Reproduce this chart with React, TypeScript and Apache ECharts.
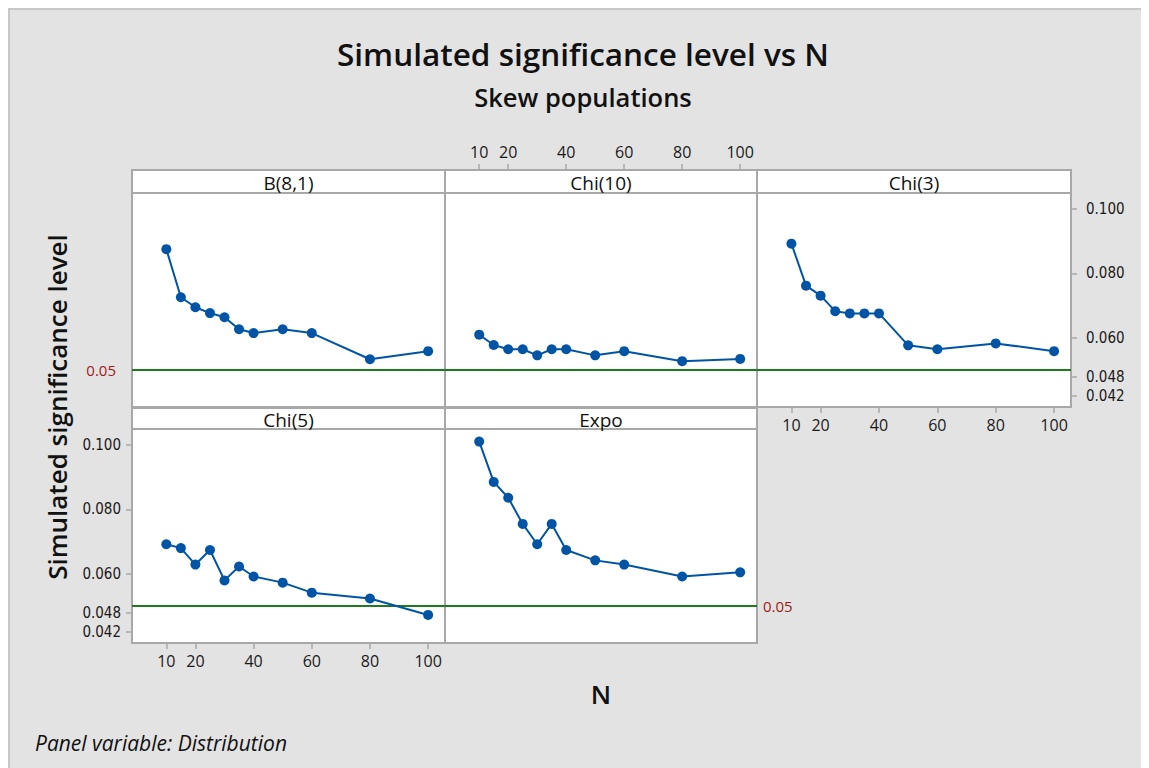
import React, { useEffect, useRef } from "react";
import * as echarts from "echarts";

const nValues = [10, 15, 20, 25, 30, 35, 40, 50, 60, 80, 100];
const panelNames = ["B(8,1)", "Chi(10)", "Chi(3)", "Chi(5)", "Expo"];
const b81 = [0.0875, 0.0726, 0.0695, 0.0677, 0.0664, 0.0627, 0.0615, 0.0627, 0.0615, 0.0534, 0.0559];
const chi10 = [0.061, 0.0578, 0.0565, 0.0565, 0.0546, 0.0565, 0.0565, 0.0546, 0.0559, 0.0528, 0.0535];
const chi3 = [0.0892, 0.0762, 0.0731, 0.0683, 0.0676, 0.0676, 0.0676, 0.0577, 0.0565, 0.0583, 0.0559];
const chi5 = [0.0692, 0.068, 0.0629, 0.0674, 0.058, 0.0623, 0.0592, 0.0573, 0.0542, 0.0524, 0.0473];
const expo = [0.101, 0.0885, 0.0836, 0.0755, 0.0692, 0.0755, 0.0674, 0.0642, 0.0629, 0.0592, 0.0605];
const yTicks = [0.042, 0.048, 0.06, 0.08, 0.1];
const xTicks = [10, 20, 40, 60, 80, 100];
const refLevel = 0.05;

const FONT = "'Open Sans', 'Noto Sans', sans-serif";
const NARROW = "'Liberation Sans Narrow', 'DejaVu Sans Condensed', Roboto, sans-serif";
const BLUE = "#0054a6";
const GREEN = "#1e7b1e";
const RED = "#9c1c1c";
const BORDER = "#a8a8a8";

export default function App() {
  const ref = useRef<HTMLDivElement>(null);
  useEffect(() => {
    if (!ref.current) return;
    const chart = echarts.init(ref.current, undefined, { renderer: "svg" });
    const seriesData = [b81, chi10, chi3, chi5, expo];
    const colLeft = [124, 437, 749];
    const colWidth = [313, 312, 314];
    const rowTop = [185, 421];
    const rowHeight = 214;
    const headerTop = [162, 400];
    const headerH = [23, 21];
    const pos = [
      [0, 0],
      [0, 1],
      [0, 2],
      [1, 0],
      [1, 1],
    ];
    const grids = pos.map(([r, c]) => ({
      left: colLeft[c],
      top: rowTop[r],
      width: colWidth[c],
      height: rowHeight,
      show: true,
      backgroundColor: "#ffffff",
      borderColor: BORDER,
      borderWidth: 2,
      containLabel: false,
    }));
    const xLabelPanels: Record<number, string> = { 1: "top", 2: "bottom", 3: "bottom" };
    const xAxes = pos.map((_, i) => {
      const show = xLabelPanels[i] !== undefined;
      return {
        type: "value",
        gridIndex: i,
        min: -1.8,
        max: 105.8,
        position: xLabelPanels[i] || "bottom",
        offset: i === 1 ? 23 : 0,
        axisLine: { show: false, onZero: false },
        splitLine: { show: false },
        axisTick: {
          show,
          customValues: xTicks,
          length: 6,
          lineStyle: { color: BORDER, width: 1.5 },
        },
        axisLabel: {
          show,
          customValues: xTicks,
          margin: 10,
          fontFamily: FONT,
          fontSize: 16,
          color: "#1a1a1a",
          formatter: (v: number) => String(v),
        },
      };
    });
    const yLabelPanels: Record<number, string> = { 2: "right", 3: "left" };
    const yAxes = pos.map((_, i) => {
      const show = yLabelPanels[i] !== undefined;
      return {
        type: "value",
        gridIndex: i,
        min: 0.0386,
        max: 0.1049,
        position: yLabelPanels[i] || "left",
        axisLine: { show: false, onZero: false },
        splitLine: { show: false },
        axisTick: {
          show,
          customValues: yTicks,
          length: 6,
          lineStyle: { color: BORDER, width: 1.5 },
        },
        axisLabel: {
          show,
          customValues: yTicks,
          margin: i === 2 ? 15 : 11,
          fontFamily: NARROW,
          fontSize: 15,
          color: "#1a1a1a",
          formatter: (v: number) => v.toFixed(3),
        },
      };
    });
    const series = pos.map((_, i) => ({
      type: "line",
      name: panelNames[i],
      xAxisIndex: i,
      yAxisIndex: i,
      data: nValues.map((n, k) => [n, seriesData[i][k]]),
      symbol: "circle",
      symbolSize: 10,
      itemStyle: { color: BLUE },
      lineStyle: { color: BLUE, width: 2 },
      z: 5,
      markLine: {
        silent: true,
        symbol: "none",
        animation: false,
        lineStyle: { color: GREEN, width: 2, type: "solid" },
        label:
          i === 0
            ? { show: true, position: "start", formatter: "0.05", color: RED, fontSize: 15, fontFamily: FONT, distance: 16 }
            : i === 4
            ? { show: true, position: "end", formatter: "0.05", color: RED, fontSize: 15, fontFamily: FONT, distance: 6 }
            : { show: false },
        data: [{ yAxis: refLevel }],
      },
    }));
    const graphics: any[] = [
      { type: "line", shape: { x1: 0, y1: 1, x2: 1141, y2: 1 }, style: { stroke: "#c8c8c8", lineWidth: 2 } },
      { type: "line", shape: { x1: 1, y1: 0, x2: 1, y2: 760 }, style: { stroke: "#c8c8c8", lineWidth: 2 } },
      {
        type: "text",
        x: 575,
        y: 45,
        style: { text: "Simulated significance level vs N", font: `600 31.5px ${FONT}`, fill: "#111", textAlign: "center", textVerticalAlign: "middle" },
      },
      {
        type: "text",
        x: 575,
        y: 89,
        style: { text: "Skew populations", font: `600 25.5px ${FONT}`, fill: "#111", textAlign: "center", textVerticalAlign: "middle" },
      },
      {
        type: "text",
        x: 49,
        y: 399,
        rotation: Math.PI / 2,
        style: { text: "Simulated significance level", font: `600 26px ${FONT}`, fill: "#111", textAlign: "center", textVerticalAlign: "middle" },
      },
      {
        type: "text",
        x: 593,
        y: 686,
        style: { text: "N", font: `600 26px ${FONT}`, fill: "#111", textAlign: "center", textVerticalAlign: "middle" },
      },
      {
        type: "text",
        x: 27,
        y: 735,
        style: { text: "Panel variable: Distribution", font: `italic 21px ${FONT}`, fill: "#111", textAlign: "left", textVerticalAlign: "middle" },
      },
    ];
    pos.forEach(([r, c], i) => {
      graphics.push({
        type: "rect",
        shape: { x: colLeft[c], y: headerTop[r], width: colWidth[c], height: headerH[r] },
        style: { fill: "#ffffff", stroke: BORDER, lineWidth: 2 },
      });
      graphics.push({
        type: "text",
        x: colLeft[c] + colWidth[c] / 2,
        y: headerTop[r] + headerH[r] / 2 + 1,
        style: { text: panelNames[i], font: `19px ${FONT}`, fill: "#111", textAlign: "center", textVerticalAlign: "middle" },
      });
    });
    chart.setOption({
      animation: false,
      backgroundColor: "#e3e3e3",
      grid: grids,
      xAxis: xAxes,
      yAxis: yAxes,
      series,
      graphic: graphics,
    });
    return () => chart.dispose();
  }, []);
  return <div ref={ref} style={{ width: 1141, height: 760 }} />;
}
